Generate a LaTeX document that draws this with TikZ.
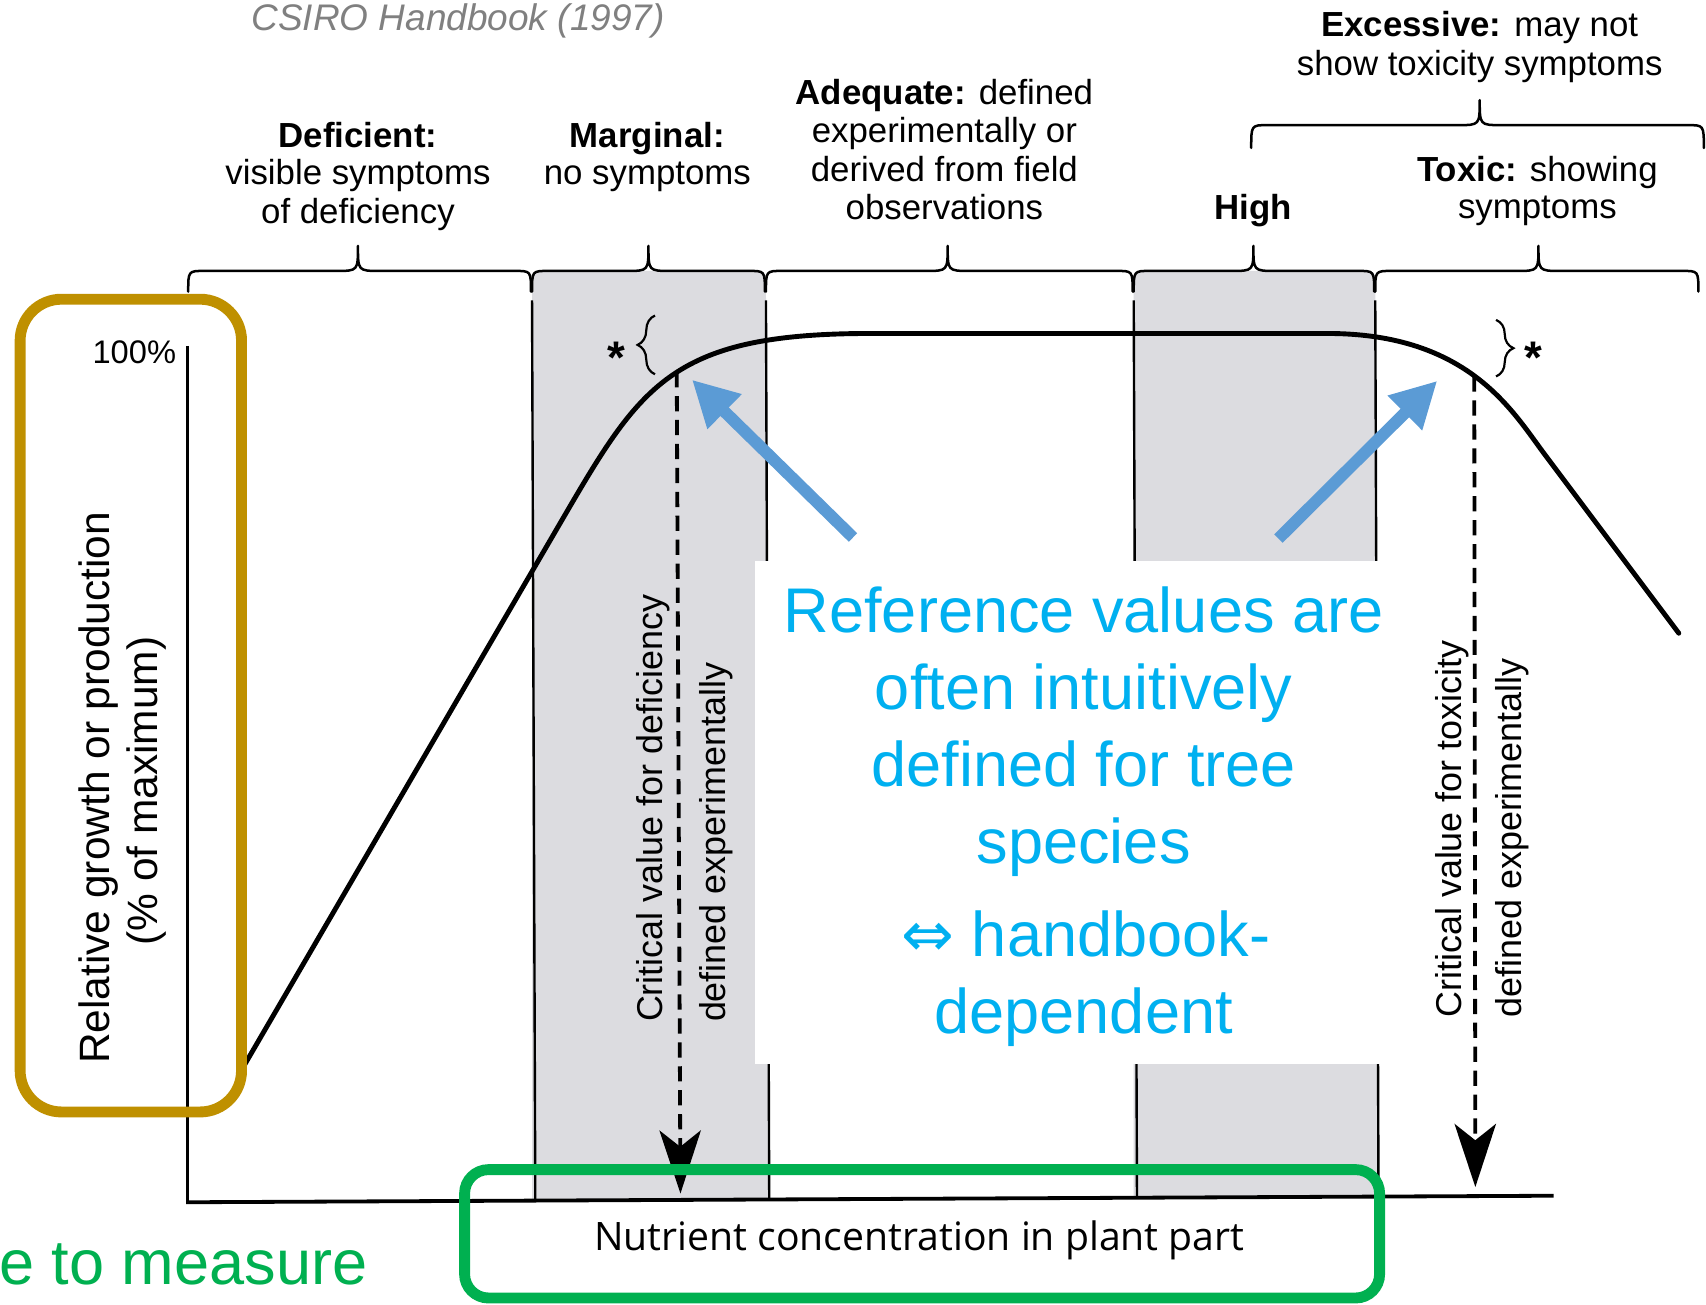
\documentclass[tikz,border=0pt]{standalone}
\usepackage{fontspec}
\newfontfamily\lsans{Liberation Sans}
\newfontfamily\djv{DejaVu Sans}
\newfontfamily\osans{Open Sans}
\usetikzlibrary{arrows.meta,decorations.pathreplacing}
\definecolor{bandgray}{HTML}{DCDCE0}
\definecolor{goldc}{HTML}{BF9000}
\definecolor{greenc}{HTML}{00B050}
\definecolor{bluetxt}{HTML}{00B0F0}
\definecolor{bluearr}{HTML}{5B9BD5}
\definecolor{titlegray}{HTML}{808080}
\newcommand{\hbr}[6]{\draw[bracestyle] (#1,#4) .. controls (#1,#5) .. (#1+15,#5) -- (#3-20,#5) .. controls (#3,#5) .. (#3,#6) .. controls (#3,#5) .. (#3+20,#5) -- (#2-15,#5) .. controls (#2,#5) .. (#2,#4);}
\begin{document}
\begin{tikzpicture}[x=1pt,y=-1pt,
  lab/.style={font=\lsans\fontsize{32}{36}\selectfont, inner sep=0pt, anchor=base},
  bracestyle/.style={line width=2.3pt, line cap=round, line join=round},
  edgeline/.style={line width=2.2pt},
  curvestyle/.style={line width=4.5pt, line cap=round, line join=round},
  dasharrow/.style={line width=3.5pt, dash pattern=on 14pt off 8pt, -{Stealth[length=58pt,width=38pt,inset=15pt]}},
  bluearrow/.style={line width=11pt, draw=bluearr, -{Triangle[length=42pt,width=42pt]}},
  rottext/.style={font=\lsans\fontsize{33}{36}\selectfont, rotate=90, anchor=base west, inner sep=0pt},
  ylab/.style={font=\lsans\fontsize{39}{44}\selectfont, rotate=90, anchor=base, inner sep=0pt},
  bluetext/.style={font=\lsans\fontsize{58}{64}\selectfont, text=bluetxt, anchor=base, inner sep=0pt},
  starlab/.style={font=\lsans\bfseries\fontsize{42}{44}\selectfont, anchor=north, inner sep=0pt},
  smallbrace/.style={decorate, decoration={brace, amplitude=16pt}, line width=2pt},
  roundbox/.style={line width=10pt}
]
\useasboundingbox (0,0) rectangle (1568,1199);
\fill[white] (0,0) rectangle (1568,1199);

% gray bands
\fill[bandgray] (489,1104) -- (489,266) .. controls (489,249) .. (505,249) -- (688,249) .. controls (704,249) .. (704,266) -- (707,1103) -- cycle;
\fill[bandgray] (1042,1101) -- (1042,266) .. controls (1042,249) .. (1058,249) -- (1248,249) .. controls (1264,249) .. (1264,266) -- (1267,1100) -- cycle;
\draw[edgeline] (489,276) -- (492,1104);
\draw[edgeline] (704,276) -- (707,1103);
\draw[edgeline] (1042,276) -- (1045,1101);
\draw[edgeline] (1264,276) -- (1267,1100);

% axes
\draw[line width=2.5pt] (172.5,318) -- (172.5,1105);
\draw[line width=3.5pt] (171,1105) -- (1428,1099);

% braces
\hbr{173}{488}{329}{268}{249}{226}
\hbr{489}{703}{596}{268}{249}{226}
\hbr{704}{1041}{871}{268}{249}{226}
\hbr{1042}{1263}{1152}{268}{249}{226}
\hbr{1264}{1561}{1414}{268}{249}{226}
\hbr{1150}{1566}{1360}{136}{115}{92}

% response curve
\draw[curvestyle] (224,980) -- (520,472) .. controls (590,352) and (620,306.5) .. (800,306.5) -- (1220,306.5) .. controls (1350,306.5) and (1390,378) .. (1420,418) -- (1543,582);

% dashed critical value arrows
\coordinate (cd1) at (622,342);
\coordinate (cd1e) at (625.4,1097);
\coordinate (cd2) at (1355,346);
\coordinate (cd2e) at (1356,1091);
\draw[dasharrow] (cd1) -- (cd1e);
\draw[dasharrow] (cd2) -- (cd2e);

% small braces and stars
\draw[smallbrace] (602,344) -- (602,290);
\draw[smallbrace] (1375,294) -- (1375,346);
\node[starlab] (st1) at (566.8,314) {*};
\node[starlab] (st2) at (1409,314) {*};

% rotated texts
\node[rottext] (cvd) at (609,939.5) {Critical value for deficiency};
\node[rottext] (dex1) at (667,939.5) {defined experimentally};
\node[rottext] (cvt) at (1343,935.4) {Critical value for toxicity};
\node[rottext] (dex2) at (1398,935.4) {defined experimentally};

% top labels
\node[lab] (d1) at (329,136) {\bfseries Deficient:};
\node[lab] (d2) at (329,170) {visible symptoms};
\node[lab] (d3) at (329,205) {of deficiency};
\node[lab] (m1) at (595,136) {\bfseries Marginal:};
\node[lab] (m2) at (595,170) {no symptoms};
\node[lab] (a1) at (868,96) {\textbf{Adequate:} defined};
\node[lab] (a2) at (868,131) {experimentally or};
\node[lab] (a3) at (868,167) {derived from field};
\node[lab] (a4) at (868,202) {observations};
\node[lab] (h1) at (1152,202) {\bfseries High};
\node[lab] (t1) at (1413,167) {\textbf{Toxic:} showing};
\node[lab] (t2) at (1413,201) {symptoms};
\node[lab] (e1) at (1360,34) {\textbf{Excessive:} may not};
\node[lab] (e2) at (1360,69) {show toxicity symptoms};

% axis labels
\node[font=\lsans\fontsize{30}{34}\selectfont, anchor=base east, inner sep=0pt] (hund) at (162,334) {100\%};
\node[ylab] (yl1) at (101,724) {Relative growth or production};
\node[ylab] (yl2) at (145,727) {(\% of maximum)};
\node[font=\osans\fontsize{36}{40}\selectfont, anchor=base, inner sep=0pt] (xl) at (845,1149) {Nutrient concentration in plant part};

% white box and blue text
\fill[white] (694,516) rectangle (1269,978);
\node[bluetext] (b1) at (996,581.4) {Reference values are};
\node[bluetext] (b2) at (996,652) {often intuitively};
\node[bluetext] (b3) at (996,723) {defined for tree};
\node[bluetext] (b4) at (996,793.8) {species};
\node[bluetext] (b5) at (998,878.7) {{\djv ⇔} handbook-};
\node[bluetext] (b6) at (996,949.5) {dependent};

% blue arrows
\coordinate (ba1s) at (784,494);
\coordinate (ba1t) at (636,349);
\coordinate (ba2s) at (1175,495);
\coordinate (ba2t) at (1321,350);
\draw[bluearrow] (ba1s) -- (ba1t);
\draw[bluearrow] (ba2s) -- (ba2t);

% highlight boxes
\draw[roundbox, draw=goldc, rounded corners=38pt] (18.5,275) rectangle (222,1022);
\draw[roundbox, draw=greenc, rounded corners=22pt] (427,1075) rectangle (1268,1193);
\node[font=\lsans\fontsize{58}{64}\selectfont, text=greenc, anchor=base east, inner sep=0pt] (gm) at (338,1181) {e to measure};

% title
\node[font=\lsans\itshape\fontsize{34}{38}\selectfont, text=titlegray, anchor=base, inner sep=0pt] (title) at (421,27.6) {CSIRO Handbook (1997)};
\end{tikzpicture}
\end{document}
